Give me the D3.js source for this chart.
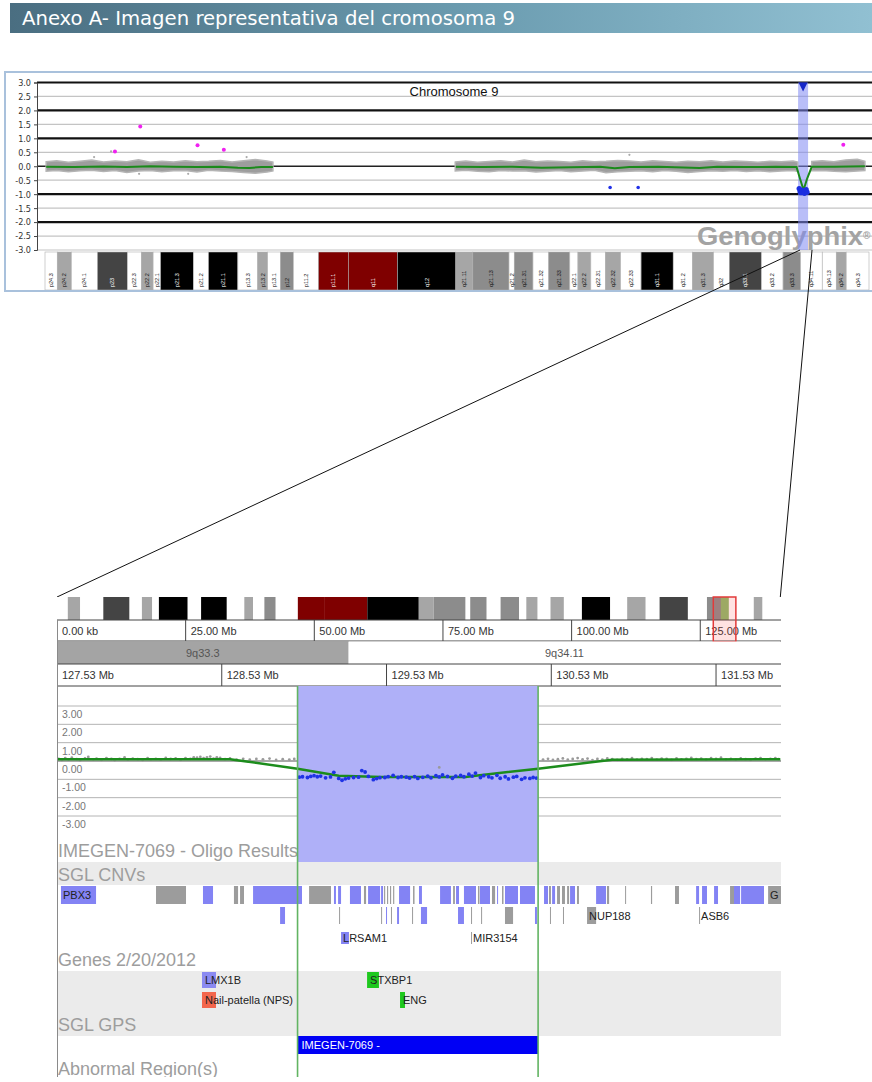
<!DOCTYPE html>
<html>
<head>
<meta charset="utf-8">
<script src="https://cdn.jsdelivr.net/npm/d3@7"></script>
<style>
  body { margin: 0; background: #fff; }
  svg { display: block; font-family: "Liberation Sans", Arial, sans-serif; }
</style>
</head>
<body>
<svg id="chart"></svg>
<script>
const width = 872;
const height = 1082;

const title = "Anexo A- Imagen representativa del cromosoma 9";

// chromosome 9 cytobands (Mb)
const bands = [
  ["p24.3", 0, 2.1, "gneg"], ["p24.2", 2.1, 4.5, "gpos25"], ["p24.1", 4.5, 9.0, "gneg"],
  ["p23", 9.0, 14.1, "gpos75"], ["p22.3", 14.1, 16.5, "gneg"], ["p22.2", 16.5, 18.5, "gpos25"],
  ["p22.1", 18.5, 19.8, "gneg"], ["p21.3", 19.8, 25.4, "gpos100"], ["p21.2", 25.4, 28.0, "gneg"],
  ["p21.1", 28.0, 33.0, "gpos100"], ["p13.3", 33.0, 36.4, "gneg"], ["p13.2", 36.4, 38.1, "gpos25"],
  ["p13.1", 38.1, 40.3, "gneg"], ["p12", 40.3, 42.5, "gpos50"], ["p11.2", 42.5, 46.8, "gneg"],
  ["p11.1", 46.8, 51.9, "acen"], ["q11", 51.9, 60.3, "acen"], ["q12", 60.3, 70.3, "gvar"],
  ["q21.11", 70.3, 73.2, "gpos25"], ["q21.13", 73.2, 79.4, "gpos50"], ["q21.2", 79.4, 80.3, "gneg"],
  ["q21.31", 80.3, 83.5, "gpos50"], ["q21.32", 83.5, 86.2, "gneg"], ["q21.33", 86.2, 89.8, "gpos50"],
  ["q22.1", 89.8, 91.2, "gneg"], ["q22.2", 91.2, 93.4, "gpos25"], ["q22.31", 93.4, 95.9, "gneg"],
  ["q22.32", 95.9, 98.5, "gpos25"], ["q22.33", 98.5, 102.0, "gneg"], ["q31.1", 102.0, 107.5, "gpos100"],
  ["q31.2", 107.5, 110.8, "gneg"], ["q31.3", 110.8, 114.4, "gpos25"], ["q32", 114.4, 117.1, "gneg"],
  ["q33.1", 117.1, 122.6, "gpos75"], ["q33.2", 122.6, 126.3, "gneg"], ["q33.3", 126.3, 129.3, "gpos50"],
  ["q34.11", 129.3, 133.0, "gneg"], ["q34.13", 133.0, 135.4, "gneg"], ["q34.2", 135.4, 137.1, "gpos25"],
  ["q34.3", 137.1, 141.0, "gneg"]
];

const overviewTicks = [3, 2.5, 2, 1.5, 1, 0.5, 0, -0.5, -1, -1.5, -2, -2.5, -3];

// grey probe cloud envelope [Mb, upper, lower]
const pArmBand = [
  [0.2, 0.16, -0.18], [2, 0.2, -0.15], [4, 0.14, -0.2], [6, 0.18, -0.16], [8, 0.22, -0.14],
  [10, 0.15, -0.19], [12, 0.19, -0.15], [14, 0.16, -0.22], [16, 0.23, -0.17], [18, 0.14, -0.15],
  [20, 0.18, -0.2], [22, 0.15, -0.16], [24, 0.2, -0.15], [26, 0.16, -0.21], [28, 0.18, -0.14],
  [30, 0.21, -0.17], [32, 0.15, -0.19], [34, 0.2, -0.22], [36, 0.24, -0.25], [38, 0.19, -0.21],
  [39, 0.15, -0.17]
];
const qArmBand = [
  [70.2, 0.15, -0.17], [72, 0.19, -0.14], [74, 0.14, -0.18], [76, 0.17, -0.2], [78, 0.2, -0.15],
  [80, 0.15, -0.17], [82, 0.22, -0.16], [84, 0.16, -0.21], [86, 0.19, -0.18], [88, 0.17, -0.15],
  [90, 0.14, -0.2], [92, 0.2, -0.17], [94, 0.16, -0.14], [96, 0.18, -0.23], [98, 0.21, -0.2],
  [100, 0.19, -0.18], [102, 0.15, -0.16], [104, 0.2, -0.2], [106, 0.17, -0.15], [108, 0.14, -0.18],
  [110, 0.18, -0.22], [112, 0.16, -0.19], [114, 0.2, -0.16], [116, 0.15, -0.18], [118, 0.19, -0.15],
  [120, 0.17, -0.19], [122, 0.14, -0.16], [124, 0.18, -0.2], [126, 0.16, -0.17], [128, 0.19, -0.15],
  [128.8, 0.15, -0.18]
];
const qDistalBand = [
  [131.2, 0.17, -0.16], [133, 0.2, -0.15], [135, 0.16, -0.18], [137, 0.22, -0.2], [139, 0.25, -0.17],
  [140.3, 0.18, -0.15]
];

// segmentation line [Mb, log2 ratio]
const pArmSegment = [
  [0.2, -0.02], [5, -0.03], [10, -0.01], [14, -0.03], [18, 0.0], [22, -0.02], [26, -0.03],
  [30, -0.02], [33, -0.05], [35, -0.06], [37, -0.03], [39, -0.03]
];
const qArmSegment = [
  [70.3, -0.02], [75, -0.03], [80, -0.02], [85, -0.05], [90, -0.04], [95, -0.02], [97.5, -0.07],
  [100, -0.03], [105, -0.02], [112, -0.06], [115, -0.02], [120, -0.03], [125, -0.02], [128.6, -0.03],
  [129.2, -0.45], [129.8, -0.85], [130.4, -0.45], [131.2, -0.02], [135, -0.02], [140.3, 0.0]
];

const strayProbes = [[8.4, 0.33], [11.3, 0.53], [16.1, -0.27], [24.5, -0.27], [34.5, 0.33], [100, 0.41]];
const gainProbes = [[11.97, 0.53], [16.3, 1.42], [26.1, 0.75], [30.6, 0.59], [136.6, 0.77]];
const lossProbes = [[96.7, -0.76], [101.5, -0.76]];
const deletionProbes = [
  [129.05, -0.8], [129.2, -0.9], [129.35, -0.95], [129.5, -0.85], [129.65, -0.92],
  [129.8, -0.88], [129.95, -0.97], [130.1, -0.9], [130.25, -0.84], [130.4, -0.93]
];

const abnormalRegion = [128.99, 130.45];
const zoomWindow = [127.53, 131.92];
const connectorMb = [129.2, 131.25];

const ideoTicks = [0, 25, 50, 75, 100, 125];
const ideoTickLabels = ["0.00 kb", "25.00 Mb", "50.00 Mb", "75.00 Mb", "100.00 Mb", "125.00 Mb"];
const subBands = [["9q33.3", 127.53, 129.3, "gpos50"], ["9q34.11", 129.3, 131.92, "gneg"]];
const zoomTicks = [127.53, 128.53, 129.53, 130.53, 131.53];
const zoomTickLabels = ["127.53 Mb", "128.53 Mb", "129.53 Mb", "130.53 Mb", "131.53 Mb"];
const zoomGrid = [3, 2, 1, 0, -1, -2, -3];

// oligo probes in the zoom window [Mb, log2 ratio]
const normalProbes = [
  [127.54, 0.12], [127.56, 0.05], [127.58, 0.15], [127.60, 0.08], [127.62, 0.18], [127.65, 0.10],
  [127.67, 0.03], [127.70, 0.14], [127.72, 0.22], [127.75, 0.09], [127.77, 0.13], [127.80, 0.06],
  [127.83, 0.16], [127.86, 0.11], [127.88, 0.04], [127.91, 0.12], [127.94, 0.19], [127.96, 0.08],
  [127.99, 0.13], [128.02, 0.10], [128.05, 0.05], [128.08, 0.15], [128.10, 0.09], [128.13, 0.12],
  [128.16, 0.07], [128.19, 0.17], [128.22, 0.11], [128.25, 0.14], [128.28, 0.06], [128.31, 0.16],
  [128.34, 0.12], [128.36, 0.2], [128.38, 0.18], [128.40, 0.22], [128.42, 0.15], [128.44, 0.19],
  [128.46, 0.24], [128.48, 0.13], [128.50, 0.2], [128.52, 0.17], [128.55, 0.10], [128.58, 0.14],
  [128.62, 0.08], [128.66, 0.12], [128.70, 0.07], [128.74, 0.11], [128.78, 0.09], [128.82, 0.13],
  [128.86, 0.06], [128.90, 0.10], [128.94, 0.08], [128.97, 0.11],
  [129.85, -0.35],
  [130.48, 0.08], [130.51, 0.12], [130.54, 0.06], [130.57, 0.10], [130.60, 0.14], [130.63, 0.07],
  [130.66, 0.11], [130.69, 0.16], [130.72, 0.09], [130.75, 0.13], [130.78, 0.05], [130.81, 0.11],
  [130.84, 0.08], [130.87, 0.14], [130.90, 0.10], [130.93, 0.06], [130.96, 0.12], [130.99, 0.09],
  [131.02, 0.15], [131.05, 0.07], [131.08, 0.12], [131.11, 0.10], [131.14, 0.16], [131.17, 0.08],
  [131.20, 0.13], [131.23, 0.11], [131.26, 0.06], [131.29, 0.14], [131.32, 0.09], [131.35, 0.12],
  [131.38, 0.17], [131.41, 0.10], [131.44, 0.13], [131.47, 0.07], [131.50, 0.15], [131.53, 0.11],
  [131.56, 0.18], [131.59, 0.09], [131.62, 0.12], [131.65, 0.08], [131.68, 0.14], [131.71, 0.10],
  [131.74, 0.06], [131.77, 0.13], [131.80, 0.16], [131.83, 0.09], [131.86, 0.12], [131.89, 0.15],
  [131.91, 0.1]
];
const lostProbes = [
  [129.00, -0.88], [129.02, -0.86], [129.05, -0.90], [129.07, -0.84], [129.09, -0.80], [129.11, -0.86],
  [129.13, -0.82], [129.16, -0.92], [129.19, -0.87], [129.21, -0.62], [129.24, -0.95], [129.26, -1.05],
  [129.28, -0.97], [129.30, -0.93], [129.33, -0.90], [129.36, -0.88], [129.38, -0.52], [129.40, -0.60],
  [129.42, -0.84], [129.45, -1.02], [129.47, -0.96], [129.49, -0.91], [129.52, -0.90], [129.54, -0.85],
  [129.57, -0.78], [129.60, -0.90], [129.62, -0.86], [129.65, -0.88], [129.67, -0.93], [129.70, -0.85],
  [129.72, -0.95], [129.75, -0.89], [129.78, -0.82], [129.80, -0.92], [129.83, -0.80], [129.85, -0.87],
  [129.87, -0.76], [129.90, -0.84], [129.93, -0.94], [129.95, -0.83], [129.98, -0.79], [130.00, -0.86],
  [130.03, -0.72], [130.05, -0.82], [130.07, -0.66], [130.10, -0.90], [130.12, -0.80], [130.15, -0.86],
  [130.17, -0.92], [130.20, -0.78], [130.22, -0.94], [130.25, -0.86], [130.27, -0.98], [130.30, -0.88],
  [130.32, -0.84], [130.35, -1.00], [130.37, -0.92], [130.40, -0.95], [130.42, -0.90], [130.44, -0.93]
];
const zoomSegment = [
  [127.53, 0.1], [128.58, 0.1], [128.99, -0.42], [129.24, -0.8], [129.5, -0.87], [130.01, -0.87],
  [130.07, -0.8], [130.45, -0.42], [130.9, 0.07], [131.92, 0.1]
];

// SGL CNVs [start, end, kind, label] ; b = loss/blue, g = grey
const cnvRow1 = [
  [127.554, 127.767, "b", "PBX3"], [128.131, 128.313, "g"], [128.416, 128.477, "b"],
  [128.604, 128.629, "g"], [128.641, 128.665, "g"], [128.720, 129.017, "b"], [129.060, 129.193, "g"],
  [129.211, 129.223, "b"], [129.236, 129.254, "b"], [129.308, 129.375, "b"], [129.393, 129.406, "g"],
  [129.418, 129.491, "b"], [129.497, 129.509, "b"], [129.515, 129.522, "g"], [129.533, 129.540, "g"],
  [129.551, 129.558, "g"], [129.570, 129.577, "g"], [129.606, 129.673, "b"], [129.691, 129.700, "g"],
  [129.727, 129.745, "b"], [129.855, 129.921, "b"], [129.934, 129.945, "g"], [129.952, 129.970, "b"],
  [130.000, 130.073, "b"], [130.085, 130.094, "g"], [130.097, 130.158, "b"], [130.170, 130.189, "g"],
  [130.201, 130.207, "b"], [130.231, 130.240, "g"], [130.249, 130.328, "b"], [130.340, 130.431, "b"],
  [130.486, 130.510, "b"], [130.516, 130.528, "g"], [130.535, 130.553, "b"], [130.565, 130.583, "g"],
  [130.595, 130.613, "g"], [130.626, 130.638, "g"], [130.644, 130.674, "b"], [130.686, 130.698, "g"],
  [130.802, 130.862, "b"], [130.868, 130.881, "g"], [130.978, 130.984, "g"], [131.135, 131.142, "g"],
  [131.281, 131.305, "g"], [131.409, 131.427, "b"], [131.445, 131.475, "b"], [131.518, 131.542, "b"],
  [131.615, 131.639, "g"], [131.639, 131.676, "b"], [131.682, 131.821, "b"], [131.846, 131.950, "g", "G"]
];
const cnvRow2 = [
  [128.884, 128.914, "b"], [129.242, 129.248, "g"], [129.497, 129.503, "g"], [129.527, 129.533, "b"],
  [129.557, 129.563, "g"], [129.594, 129.606, "b"], [129.685, 129.691, "g"], [129.739, 129.776, "b"],
  [129.964, 130.000, "b"], [130.043, 130.049, "g"], [130.104, 130.110, "g"], [130.249, 130.298, "g"],
  [130.431, 130.443, "b"], [130.522, 130.528, "g"], [130.601, 130.607, "g"],
  [130.747, 130.802, "g", "NUP188"], [131.427, 131.433, "g", "ASB6"]
];
const cnvRow3 = [[129.254, 129.302, "b", "LRSAM1"], [130.043, 130.049, "g", "MIR3154"]];

// Genes 2/20/2012 [name, start, end, kind]
const genesRow1 = [["LMX1B", 128.41, 128.495, "gene"], ["STXBP1", 129.412, 129.484, "morbid"]];
const genesRow2 = [["Nail-patella (NPS)", 128.41, 128.495, "syndrome"], ["ENG", 129.612, 129.642, "morbid"]];

const gpsCalls = [["IMEGEN-7069 -", 128.99, 130.45]];

const stainColor = {
  gneg: "#ffffff", gpos25: "#a6a6a6", gpos50: "#8c8c8c", gpos75: "#444444",
  gpos100: "#000000", acen: "#7f0000", gvar: "#000000"
};
const darkStains = ["gpos75", "gpos100", "acen", "gvar"];
const cnvColor = { b: "#8383f4", g: "#9c9c9c" };
const geneColor = { gene: "#8a8af2", syndrome: "#f3664c", morbid: "#1ec81e" };

const xTop = d3.scaleLinear().domain([0, 141]).range([45, 869]);
const yTop = d3.scaleLinear().domain([-3, 3]).range([250, 82.5]);
const xIdeo = d3.scaleLinear().domain([0, 141]).range([57, 782.6]);
const xZoom = d3.scaleLinear().domain(zoomWindow).range([57, 780.3]);
const yZoom = d3.scaleLinear().domain([-3, 3]).range([816, 706]);

const svg = d3.select("#chart").attr("width", width).attr("height", height);
const defs = svg.append("defs");

function drawHeader() {
  const grad = defs.append("linearGradient").attr("id", "hdr");
  grad.append("stop").attr("offset", "0%").attr("stop-color", "#4a6e81");
  grad.append("stop").attr("offset", "55%").attr("stop-color", "#6c9db1");
  grad.append("stop").attr("offset", "100%").attr("stop-color", "#91c0d2");

  svg.append("rect").attr("x", 10).attr("y", 3).attr("width", width - 10).attr("height", 30)
    .attr("fill", "url(#hdr)");
  svg.append("text")
    .attr("x", 22).attr("y", 25)
    .attr("fill", "#fff")
    .style("font-family", "'DejaVu Sans Condensed', 'DejaVu Sans', sans-serif")
    .style("font-size", "19px")
    .attr("textLength", 493).attr("lengthAdjust", "spacingAndGlyphs")
    .text(title);
}

function drawOverview() {
  const g = svg.append("g");
  g.append("rect").attr("x", 5).attr("y", 72).attr("width", width + 10).attr("height", 219)
    .attr("fill", "#fff").attr("stroke", "#a9c1dc").attr("stroke-width", 2);

  g.selectAll("line.grid").data(overviewTicks).enter().append("line")
    .attr("class", "grid")
    .attr("x1", 37).attr("x2", width)
    .attr("y1", (d) => yTop(d)).attr("y2", (d) => yTop(d))
    .attr("stroke", (d) => (d === 0 ? "#222" : Number.isInteger(d) && d !== -3 ? "#111" : "#c4c4c4"))
    .attr("stroke-width", (d) => (d === 0 ? 1.3 : Number.isInteger(d) && d !== -3 ? 2.2 : 1.2));

  const yAxis = d3.axisLeft(yTop).tickValues(overviewTicks).tickSize(3).tickFormat((d) => d.toFixed(1));
  const ax = g.append("g").attr("transform", "translate(37,0)").call(yAxis);
  ax.select(".domain").attr("stroke", "#444");
  ax.selectAll(".tick line").attr("stroke", "#444");
  ax.selectAll("text")
    .attr("fill", "#333")
    .style("font-family", "'Liberation Sans Narrow', 'DejaVu Sans Condensed', sans-serif")
    .style("font-size", "9px");

  g.append("text").attr("x", 454).attr("y", 96).attr("text-anchor", "middle")
    .style("font-size", "13px").attr("fill", "#111").text("Chromosome 9");

  const wm = g.append("text").attr("x", 697).attr("y", 245)
    .style("font-size", "26px").style("font-weight", "bold").attr("fill", "#a3a3a3");
  wm.append("tspan").attr("textLength", 166).attr("lengthAdjust", "spacingAndGlyphs").text("Genoglyphix");
  wm.append("tspan").attr("dy", -6).style("font-size", "10px").text("®");

  // abnormal region highlight
  const x0 = xTop(abnormalRegion[0]);
  const x1 = xTop(abnormalRegion[1]);
  const cx = (x0 + x1) / 2;
  const bw = Math.max(10, x1 - x0);
  g.append("rect").attr("x", cx - bw / 2).attr("y", yTop(3)).attr("width", bw)
    .attr("height", yTop(-3) - yTop(3)).attr("fill", "#7f88f2").attr("opacity", 0.55);

  const area = d3.area().x((d) => xTop(d[0])).y0((d) => yTop(d[2])).y1((d) => yTop(d[1]));
  g.selectAll("path.cloud").data([pArmBand, qArmBand, qDistalBand]).enter().append("path")
    .attr("class", "cloud").attr("d", area)
    .attr("fill", "#9d9d9d").attr("stroke", "#b4b4b4").attr("stroke-width", 1.5);

  g.selectAll("circle.stray").data(strayProbes).enter().append("circle")
    .attr("cx", (d) => xTop(d[0])).attr("cy", (d) => yTop(d[1])).attr("r", 1.1).attr("fill", "#aaa");

  const line = d3.line().x((d) => xTop(d[0])).y((d) => yTop(d[1]));
  g.selectAll("path.seg").data([pArmSegment, qArmSegment]).enter().append("path")
    .attr("d", line).attr("fill", "none").attr("stroke", "#1b8a1b").attr("stroke-width", 2);

  g.selectAll("circle.gain").data(gainProbes).enter().append("circle")
    .attr("cx", (d) => xTop(d[0])).attr("cy", (d) => yTop(d[1])).attr("r", 2).attr("fill", "#f020f0");
  g.selectAll("circle.loss").data(lossProbes).enter().append("circle")
    .attr("cx", (d) => xTop(d[0])).attr("cy", (d) => yTop(d[1])).attr("r", 1.8).attr("fill", "#2030e8");
  g.selectAll("circle.del").data(deletionProbes).enter().append("circle")
    .attr("cx", (d) => xTop(d[0])).attr("cy", (d) => yTop(d[1])).attr("r", 2.6).attr("fill", "#1a2ee0");

  const ty = yTop(3);
  g.append("path")
    .attr("d", `M${cx - 4.5},${ty} L${cx + 4.5},${ty} L${cx},${ty + 9} Z`)
    .attr("fill", "#1526c8");

  // ideogram
  const ig = g.append("g");
  ig.selectAll("rect").data(bands).enter().append("rect")
    .attr("x", (d) => xTop(d[1])).attr("width", (d) => xTop(d[2]) - xTop(d[1]))
    .attr("y", 252).attr("height", 38)
    .attr("fill", (d) => stainColor[d[3]]).attr("stroke", "#b0b0b0").attr("stroke-width", 0.6);
  ig.selectAll("text").data(bands).enter().append("text")
    .attr("transform", (d) => `translate(${(xTop(d[1]) + xTop(d[2])) / 2 + 2},287) rotate(-90)`)
    .style("font-size", "5.5px")
    .attr("fill", (d) => (darkStains.includes(d[3]) ? "#fff" : "#111"))
    .text((d) => d[0]);
  g.append("line").attr("x1", 5).attr("x2", width).attr("y1", 291).attr("y2", 291)
    .attr("stroke", "#a9c1dc").attr("stroke-width", 2);
}

function drawConnectors() {
  const bottom = xZoom.range();
  svg.selectAll("line.conn").data([0, 1]).enter().append("line")
    .attr("x1", (i) => xTop(connectorMb[i])).attr("y1", 250)
    .attr("x2", (i) => bottom[i]).attr("y2", 597)
    .attr("stroke", "#111").attr("stroke-width", 1);
}

function drawZoomPanel() {
  defs.append("clipPath").attr("id", "panelClip").append("rect")
    .attr("x", 57).attr("y", 590).attr("width", 724).attr("height", 487);
  const g = svg.append("g").attr("clip-path", "url(#panelClip)");
  const right = 781;

  // whole-chromosome ideogram
  g.selectAll("rect.ideo").data(bands).enter().append("rect")
    .attr("x", (d) => xIdeo(d[1])).attr("width", (d) => xIdeo(d[2]) - xIdeo(d[1]))
    .attr("y", 597).attr("height", 23).attr("fill", (d) => stainColor[d[3]]);
  const gx0 = xIdeo(abnormalRegion[0]);
  g.append("rect").attr("x", gx0).attr("y", 597)
    .attr("width", Math.max(8, xIdeo(abnormalRegion[1]) - gx0)).attr("height", 23).attr("fill", "#8cbd6c");

  // Mb scale of the whole chromosome
  g.selectAll("line.rowA").data([620, 641]).enter().append("line")
    .attr("x1", 57).attr("x2", right).attr("y1", (d) => d).attr("y2", (d) => d)
    .attr("stroke", "#444");
  g.selectAll("line.tickA").data(ideoTicks).enter().append("line")
    .attr("x1", (d) => xIdeo(d)).attr("x2", (d) => xIdeo(d)).attr("y1", 620).attr("y2", 641)
    .attr("stroke", "#444");
  g.selectAll("text.tickA").data(ideoTicks).enter().append("text")
    .attr("x", (d) => xIdeo(d) + 5).attr("y", 635)
    .style("font-size", "11px").attr("fill", "#333")
    .text((d, i) => ideoTickLabels[i]);

  const wx0 = xIdeo(zoomWindow[0]);
  g.append("rect").attr("x", wx0).attr("y", 597)
    .attr("width", xIdeo(zoomWindow[1]) - wx0).attr("height", 45)
    .attr("fill", "rgba(255,60,60,0.15)").attr("stroke", "#e23a3a").attr("stroke-width", 1.5);

  // sub bands
  g.selectAll("rect.sub").data(subBands).enter().append("rect")
    .attr("x", (d) => xZoom(d[1])).attr("width", (d) => xZoom(d[2]) - xZoom(d[1]))
    .attr("y", 641.5).attr("height", 22.5)
    .attr("fill", (d) => (d[3] === "gneg" ? "#fff" : "#a4a4a4"));
  g.selectAll("text.sub").data(subBands).enter().append("text")
    .attr("x", (d) => (xZoom(d[1]) + xZoom(d[2])) / 2).attr("y", 657)
    .attr("text-anchor", "middle").style("font-size", "11px").attr("fill", "#555")
    .text((d) => d[0]);

  // zoom Mb scale
  g.selectAll("line.rowC").data([664, 686]).enter().append("line")
    .attr("x1", 57).attr("x2", right).attr("y1", (d) => d).attr("y2", (d) => d)
    .attr("stroke", "#444");
  g.selectAll("line.tickC").data(zoomTicks).enter().append("line")
    .attr("x1", (d) => xZoom(d)).attr("x2", (d) => xZoom(d)).attr("y1", 664).attr("y2", 686)
    .attr("stroke", "#444");
  g.selectAll("text.tickC").data(zoomTicks).enter().append("text")
    .attr("x", (d) => xZoom(d) + 5).attr("y", 679)
    .style("font-size", "11px").attr("fill", "#333")
    .text((d, i) => zoomTickLabels[i]);

  // log ratio plot
  g.selectAll("line.zgrid").data(zoomGrid).enter().append("line")
    .attr("x1", 57).attr("x2", right).attr("y1", (d) => yZoom(d)).attr("y2", (d) => yZoom(d))
    .attr("stroke", (d) => (d === 0 ? "#555" : "#b4b4b4")).attr("stroke-width", 1);
  g.selectAll("text.zgrid").data(zoomGrid).enter().append("text")
    .attr("x", 62).attr("y", (d) => yZoom(d) + 12)
    .style("font-size", "10.5px").attr("fill", "#777")
    .text((d) => d.toFixed(2));

  const rx0 = xZoom(abnormalRegion[0]);
  const rx1 = xZoom(abnormalRegion[1]);
  g.append("rect").attr("x", rx0).attr("y", 686).attr("width", rx1 - rx0).attr("height", 176)
    .attr("fill", "#afb0f8");

  g.selectAll("circle.np").data(normalProbes).enter().append("circle")
    .attr("cx", (d) => xZoom(d[0])).attr("cy", (d) => yZoom(d[1])).attr("r", 1.4).attr("fill", "#9a9a9a");
  const line = d3.line().x((d) => xZoom(d[0])).y((d) => yZoom(d[1]));
  g.append("path").attr("d", line(zoomSegment)).attr("fill", "none")
    .attr("stroke", "#1c8c1c").attr("stroke-width", 2.5);
  g.selectAll("circle.lp").data(lostProbes).enter().append("circle")
    .attr("cx", (d) => xZoom(d[0])).attr("cy", (d) => yZoom(d[1])).attr("r", 1.9).attr("fill", "#1f33e6");

  const trackTitle = (y, text) =>
    g.append("text").attr("x", 58).attr("y", y).style("font-size", "18px").attr("fill", "#9d9d9d").text(text);

  trackTitle(857, "IMEGEN-7069 - Oligo Results");

  // SGL CNVs
  g.append("rect").attr("x", 57).attr("y", 862).attr("width", right - 57).attr("height", 23).attr("fill", "#ebebeb");
  trackTitle(881, "SGL CNVs");

  const cnvRows = [[cnvRow1, 886, 18], [cnvRow2, 907, 17], [cnvRow3, 932, 12]];
  cnvRows.forEach(([rows, y, h]) => {
    const rg = g.append("g");
    rg.selectAll("rect").data(rows).enter().append("rect")
      .attr("x", (d) => xZoom(d[0])).attr("width", (d) => Math.max(1, xZoom(d[1]) - xZoom(d[0])))
      .attr("y", y).attr("height", h).attr("fill", (d) => cnvColor[d[2]]);
    rg.selectAll("text").data(rows.filter((d) => d[3])).enter().append("text")
      .attr("x", (d) => xZoom(d[0]) + 2).attr("y", y + h / 2 + 4)
      .style("font-size", "11px").attr("fill", "#222")
      .text((d) => d[3]);
  });

  // Genes
  trackTitle(966, "Genes 2/20/2012");
  g.append("rect").attr("x", 57).attr("y", 971).attr("width", right - 57).attr("height", 65).attr("fill", "#ebebeb");
  [[genesRow1, 972], [genesRow2, 992]].forEach(([rows, y]) => {
    const rg = g.append("g");
    rg.selectAll("rect").data(rows).enter().append("rect")
      .attr("x", (d) => xZoom(d[1])).attr("width", (d) => xZoom(d[2]) - xZoom(d[1]))
      .attr("y", y).attr("height", 16).attr("fill", (d) => geneColor[d[3]]);
    rg.selectAll("text").data(rows).enter().append("text")
      .attr("x", (d) => xZoom(d[1]) + 3).attr("y", y + 12)
      .style("font-size", "11px").attr("fill", "#222")
      .text((d) => d[0]);
  });
  trackTitle(1031, "SGL GPS");

  g.selectAll("rect.gps").data(gpsCalls).enter().append("rect")
    .attr("x", (d) => xZoom(d[1])).attr("width", (d) => xZoom(d[2]) - xZoom(d[1]))
    .attr("y", 1036).attr("height", 18).attr("fill", "#0000f5");
  g.selectAll("text.gps").data(gpsCalls).enter().append("text")
    .attr("x", (d) => xZoom(d[1]) + 4).attr("y", 1049)
    .style("font-size", "11px").attr("fill", "#fff")
    .text((d) => d[0]);

  trackTitle(1075, "Abnormal Region(s)");

  // region borders and left border
  g.selectAll("line.edge").data(abnormalRegion).enter().append("line")
    .attr("x1", (d) => xZoom(d)).attr("x2", (d) => xZoom(d)).attr("y1", 686).attr("y2", 1077)
    .attr("stroke", "#62b462").attr("stroke-width", 1.6);
  g.append("line").attr("x1", 57.5).attr("x2", 57.5).attr("y1", 620).attr("y2", 1077)
    .attr("stroke", "#8a8a8a");
}

drawHeader();
drawOverview();
drawConnectors();
drawZoomPanel();
</script>
</body>
</html>
